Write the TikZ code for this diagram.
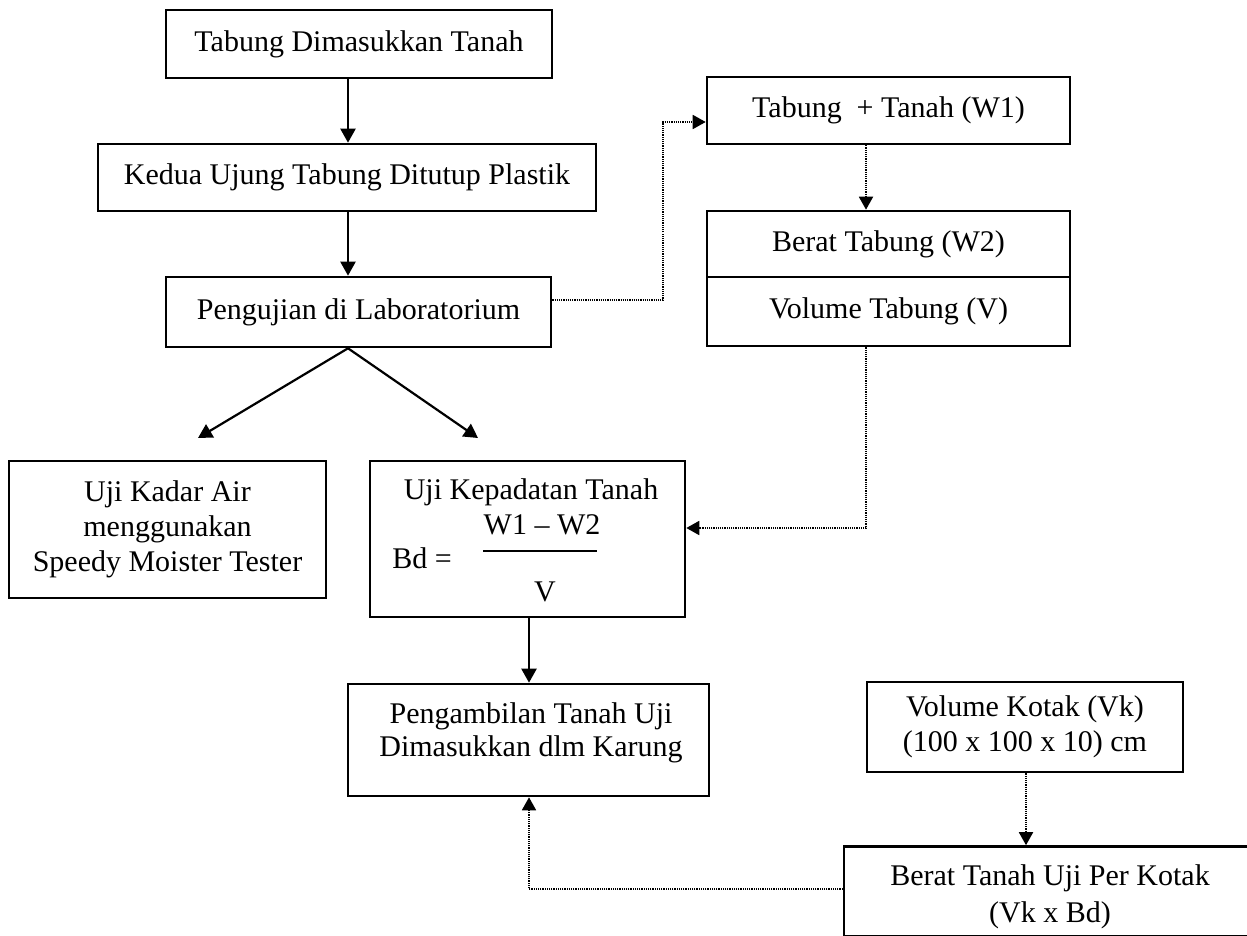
\documentclass[tikz,border=0pt]{standalone}
\usepackage{fontspec}
\setmainfont{Liberation Serif}
\usetikzlibrary{arrows.meta,calc}
\begin{document}
\begin{tikzpicture}[x=0.5pt,y=-0.5pt,
  frm/.style 2 args={draw, line width=1.3pt, inner sep=0pt, minimum width=#1*0.5pt, minimum height=#2*0.5pt, align=center, font=\fontsize{15}{17.5}\selectfont},
  txt/.style={inner sep=0pt, align=center, font=\fontsize{15}{17.5}\selectfont},
  arr/.style={line width=1.1pt, -{Triangle[length=7pt,width=7.5pt]}},
  darr/.style={line width=0.9pt, dash pattern=on 0.6pt off 0.5pt, -{Triangle[length=6.5pt,width=7pt]}},
]
\useasboundingbox (0,0) rectangle (1247,936);
\clip (0,0) rectangle (1247,936);

% column coordinates
\coordinate (c1) at (348,0);
\coordinate (c2) at (866,0);
\coordinate (c3) at (529,0);
\coordinate (c4) at (1026,0);

% boxes
\node[frm={386}{68}] (b1) at (359,44) {Tabung Dimasukkan Tanah};
\node[frm={498}{67}] (b2) at (347,177.5) {Kedua Ujung Tabung Ditutup Plastik};
\node[frm={385}{70}] (b3) at (358.5,312) {Pengujian di Laboratorium};

\node[frm={363}{67}] (w1) at (888.5,110.5) {Tabung\ \ + Tanah (W1)};
\node[frm={363}{66}] (w2) at (888.5,244) {Berat Tabung (W2)};
\node[frm={363}{69}] (v) at (888.5,311.5) {Volume Tabung (V)};

\node[frm={317}{137}] (kadar) at (167.5,529.5) {Uji Kadar Air\\menggunakan\\Speedy Moister Tester};

\node[frm={315}{156}] (kep) at (527.5,539) {};
\node[txt, anchor=base] (kep1) at (531,499) {Uji Kepadatan Tanah};
\node[txt, anchor=base] (kep2) at (542,534) {W1 – W2};
\draw[line width=1pt] (483,551) -- (597,551);
\node[txt, anchor=base west] (kep3) at (392,568) {Bd =};
\node[txt, anchor=base] (kep4) at (545,601) {V};

\node[frm={361}{112}] (pg) at (528.5,740) {};
\node[txt, font=\fontsize{15}{16.5}\selectfont] (pgt) at (531,732.5) {Pengambilan Tanah Uji\\Dimasukkan dlm Karung};

\node[frm={316}{90}] (vk) at (1025,727) {Volume Kotak (Vk)\\(100 x 100 x 10) cm};

\node[frm={418}{90}] (bt) at (1053,891.5) {};
\node[txt, font=\fontsize{15}{18.5}\selectfont] (btt) at (1050,897) {Berat Tanah Uji Per Kotak\\(Vk x Bd)};

% free ends and corners
\coordinate (t1) at (198,438);
\coordinate (t2) at (478,438);
\coordinate (r1) at (663,300);
\coordinate (r2) at (663,122);
\coordinate (r3) at (866,528);
\coordinate (r4) at (529,889);

% solid connectors
\draw[arr] (b1.south -| c1) -- (b2.north -| c1);
\draw[arr] (b2.south -| c1) -- (b3.north -| c1);
\draw[arr] (b3.south -| c1) -- (t1);
\draw[arr] (b3.south -| c1) -- (t2);
\draw[arr] (kep.south -| c3) -- (pg.north -| c3);

% dotted connectors
\draw[darr] (b3.east |- r1) -- (r1) -- (r2) -- (w1.west |- r2);
\draw[darr] (w1.south -| c2) -- (w2.north -| c2);
\draw[darr] (v.south -| c2) -- (r3) -- (kep.east |- r3);
\draw[darr] (vk.south -| c4) -- (bt.north -| c4);
\draw[darr] (bt.west |- r4) -- (r4) -- (pg.south -| r4);
\end{tikzpicture}
\end{document}
